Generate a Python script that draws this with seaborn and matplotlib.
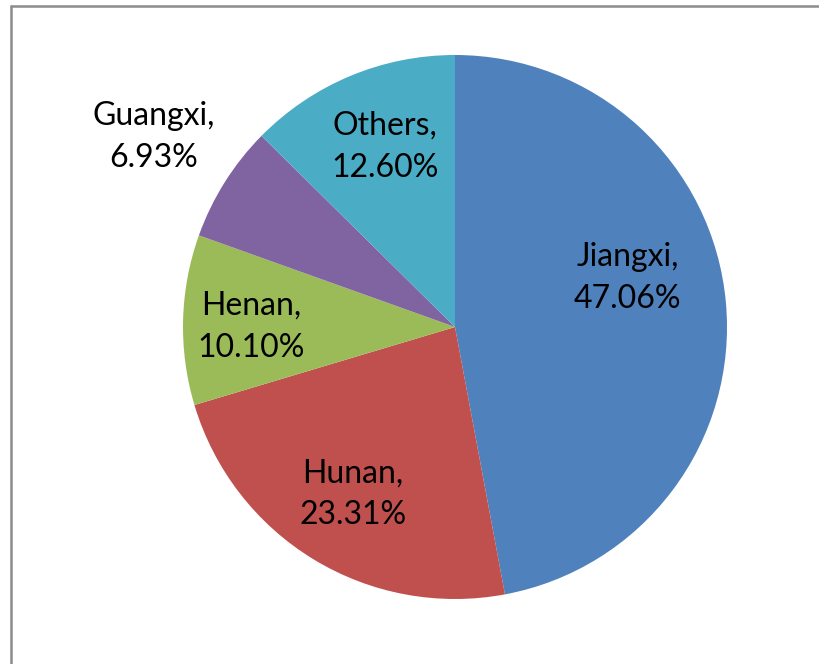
import numpy as np
import matplotlib
matplotlib.use("Agg")
import matplotlib.pyplot as plt
import seaborn as sns
from matplotlib.lines import Line2D

# ======= DATA =======
provinces = ["Jiangxi", "Hunan", "Henan", "Guangxi", "Others"]
shares = [47.06, 23.31, 10.10, 6.93, 12.60]
share_labels = ["47.06%", "23.31%", "10.10%", "6.93%", "12.60%"]
colors = ["#4F81BD", "#C0504D", "#9BBB59", "#8064A2", "#4BACC6"]
# ====================

# label placement (fraction of radius, extra angle in degrees)
label_dist = [0.66, 0.72, 0.75, 1.31, 0.71]
label_shift = [10.5, 0, 1.5, 0, -1.5]

sns.set_theme(style="white")
plt.rcParams["font.family"] = ["Lato", "DejaVu Sans"]

W, H = 820, 664
fig = plt.figure(figsize=(W / 100, H / 100), dpi=100)
ax = fig.add_axes([0, 0, 1, 1])

cx, cy, r = 455, H - 327, 272
wedges, _ = ax.pie(
    shares,
    colors=sns.color_palette(colors),
    startangle=90,
    counterclock=False,
    center=(cx, cy),
    radius=r,
    wedgeprops=dict(linewidth=0),
    frame=True,
)
ax.set_xlim(0, W)
ax.set_ylim(0, H)
ax.axis("off")

for w, name, pct, d, s in zip(wedges, provinces, share_labels, label_dist, label_shift):
    ang = np.deg2rad((w.theta1 + w.theta2) / 2 + s)
    x = cx + d * r * np.cos(ang)
    y = cy + d * r * np.sin(ang)
    ax.text(x, y, f"{name},\n{pct}", ha="center", va="center",
            multialignment="center", fontsize=23, color="black",
            linespacing=1.5)

# chart area border (left and top edges visible)
fig.add_artist(Line2D([11 / W, 11 / W], [0, 1 - 6 / H], transform=fig.transFigure,
                      color="#8c8c8c", lw=1.8))
fig.add_artist(Line2D([11 / W, 1], [1 - 6 / H, 1 - 6 / H], transform=fig.transFigure,
                      color="#8c8c8c", lw=1.8))

plt.savefig("out.png", dpi=100, facecolor="white")
